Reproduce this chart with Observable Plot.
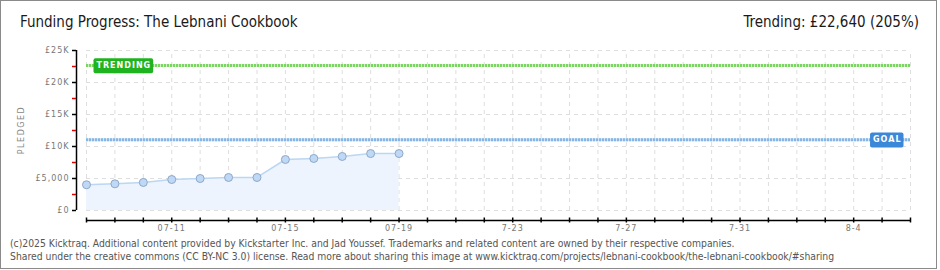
<!DOCTYPE html>
<html>
<head>
<meta charset="utf-8">
<script src="https://cdn.jsdelivr.net/npm/d3@7"></script>
<script src="https://cdn.jsdelivr.net/npm/@observablehq/plot@0.6"></script>
<style>
  body { margin: 0; background: #fff; width: 940px; height: 270px; overflow: hidden; position: relative; }
  #border { position: absolute; left: 0; top: 0; width: 935px; height: 267px; border: 1px solid #8a8a8a; box-sizing: content-box; }
  #title { position: absolute; left: 20px; top: 13px; font: 15px "DejaVu Sans Condensed", sans-serif; color: #1a1a1a; white-space: nowrap; }
  #trend { position: absolute; right: 21px; top: 13px; font: 15px "DejaVu Sans Condensed", sans-serif; color: #1a1a1a; white-space: nowrap; }
  #chart { position: absolute; left: 0; top: 0; }
  .foot { position: absolute; left: 10px; font: 10.3px "DejaVu Sans Condensed", sans-serif; color: #555; white-space: nowrap; }
</style>
</head>
<body>
<div id="border"></div>
<div id="title">Funding Progress: The Lebnani Cookbook</div>
<div id="trend">Trending: £22,640 (205%)</div>
<div id="chart"></div>
<div class="foot" style="top:237px">(c)2025 Kicktraq. Additional content provided by Kickstarter Inc. and Jad Youssef. Trademarks and related content are owned by their respective companies.</div>
<div class="foot" style="top:250px">Shared under the creative commons (CC BY-NC 3.0) license. Read more about sharing this image at www.kicktraq.com/projects/lebnani-cookbook/the-lebnani-cookbook/#sharing</div>
<script>
// ---- data ----
const dates = ["2025-07-08","2025-07-09","2025-07-10","2025-07-11","2025-07-12","2025-07-13","2025-07-14","2025-07-15","2025-07-16","2025-07-17","2025-07-18","2025-07-19"];
const pledged = [4020, 4170, 4380, 4840, 5000, 5160, 5160, 7970, 8130, 8440, 8900, 8900];
const goal = 11040;
const trending = 22640;
const domainStart = "2025-07-08";
const domainEnd = "2025-08-06";
const xTickDates = ["2025-07-11","2025-07-15","2025-07-19","2025-07-23","2025-07-27","2025-07-31","2025-08-04"];
const xTickLabels = ["07-11","07-15","07-19","7-23","7-27","7-31","8-4"];
const yTicks = [0, 5000, 10000, 15000, 20000, 25000];
const yTickLabels = ["£0","£5,000","£10K","£15K","£20K","£25K"];
const yMinorTicks = [2500, 7500, 12500, 17500, 22500];

// ---- build ----
const parse = d3.utcParse("%Y-%m-%d");
const data = dates.map((d, i) => ({date: parse(d), value: pledged[i]}));
const x0 = parse(domainStart), x1 = parse(domainEnd);
const days = d3.utcDay.range(x0, d3.utcDay.offset(x1, 1));
const labelMap = new Map(xTickDates.map((d, i) => [+parse(d), xTickLabels[i]]));
const yLabelMap = new Map(yTicks.map((v, i) => [v, yTickLabels[i]]));

const tickFont = {fontFamily: "DejaVu Sans, sans-serif", fontSize: 8};

const plot = Plot.plot({
  width: 940,
  height: 250,
  marginLeft: 76,
  marginRight: 30,
  marginTop: 50,
  marginBottom: 30,
  style: {fontFamily: "DejaVu Sans, sans-serif", fontSize: "8px", color: "#777", letterSpacing: "1px", background: "transparent", overflow: "visible"},
  x: {type: "utc", domain: [x0, x1], range: [86, 910]},
  y: {domain: [0, 25000], range: [210, 50]},
  marks: [
    // grid
    Plot.ruleX(days, {x: d => d, y1: () => 0, y2: () => 25000, stroke: "#dedede", strokeDasharray: "4,4"}),
    Plot.ruleY(yTicks, {y: d => d, x1: () => x0, x2: () => x1, stroke: "#dedede", strokeDasharray: "4,4"}),
    // area + line
    Plot.areaY(data, {x: "date", y: "value", fill: "#edf4fd"}),
    Plot.lineY(data, {x: "date", y: "value", stroke: "#bcd7f3", strokeWidth: 1.5}),
    // goal & trending lines
    Plot.ruleY([goal], {x1: () => x0, x2: () => x1, stroke: "#cfe2f5", strokeWidth: 3}),
    Plot.ruleY([goal], {x1: () => x0, x2: () => x1, stroke: "#88b6e4", strokeWidth: 3, strokeDasharray: "2,1"}),
    Plot.ruleY([trending], {x1: () => x0, x2: () => x1, stroke: "#d2f0c6", strokeWidth: 3}),
    Plot.ruleY([trending], {x1: () => x0, x2: () => x1, stroke: "#7ad660", strokeWidth: 3, strokeDasharray: "2,1"}),
    Plot.dot(data, {x: "date", y: "value", r: 4, fill: "#bed8f6", stroke: "#8ea8c8", strokeWidth: 1}),
    // labels
    Plot.text([{x: x0, y: trending, t: "TRENDING"}], {x: "x", y: "y", text: "t", dx: 10, textAnchor: "start", fill: "white", fontSize: 8, fontWeight: "bold", className: "lbl-trend"}),
    Plot.text([{x: x1, y: goal, t: "GOAL"}], {x: "x", y: "y", text: "t", dx: -9, textAnchor: "end", fill: "white", fontSize: 8, fontWeight: "bold", className: "lbl-goal"}),
    // y axis
    Plot.ruleX([x0], {x: d => d, y1: () => 0, y2: () => 25000, dx: -10, stroke: "black", strokeWidth: 1.5}),
    Plot.axisY(yMinorTicks, {anchor: "left", tickSize: 4, tickFormat: () => "", stroke: "#e00000", strokeWidth: 1.5}),
    Plot.axisY(yTicks, {anchor: "left", tickSize: 4, tickPadding: 3, tickFormat: v => yLabelMap.get(v), stroke: "black", strokeWidth: 1.5, fill: "#777", ...tickFont}),
    // x axis
    Plot.ruleY([0], {x1: () => x0, x2: () => x1, dy: 10, stroke: "black", strokeWidth: 1.5}),
    Plot.axisX(days, {anchor: "bottom", tickSize: 5, dy: -2.5, tickFormat: () => "", stroke: "black", strokeWidth: 1.5}),
    Plot.axisX(xTickDates.map(parse), {anchor: "bottom", tickSize: 0, tickPadding: 5, tickFormat: d => labelMap.get(+d) || "", fill: "#777", ...tickFont}),
  ]
});
document.getElementById("chart").appendChild(plot);

// Y axis title
const svg = d3.select(plot);
svg.append("text")
  .attr("transform", "translate(24,130) rotate(-90)")
  .attr("text-anchor", "middle")
  .attr("font-family", "DejaVu Sans, sans-serif")
  .attr("font-size", 8)
  .attr("letter-spacing", "1.5px")
  .attr("fill", "#888")
  .text("PLEDGED");

// label backgrounds
function boxes(cls, color) {
  svg.selectAll("." + cls + " text").each(function() {
    const b = this.getBBox();
    const g = d3.select(this.parentNode);
    g.insert("rect", ":first-child")
      .attr("transform", this.getAttribute("transform"))
      .attr("x", b.x - 3).attr("y", b.y - 3).attr("width", b.width + 5).attr("height", b.height + 6)
      .attr("rx", 2).attr("fill", color);
  });
}
boxes("lbl-trend", "#1fb41f");
boxes("lbl-goal", "#3b88d8");
</script>
</body>
</html>
